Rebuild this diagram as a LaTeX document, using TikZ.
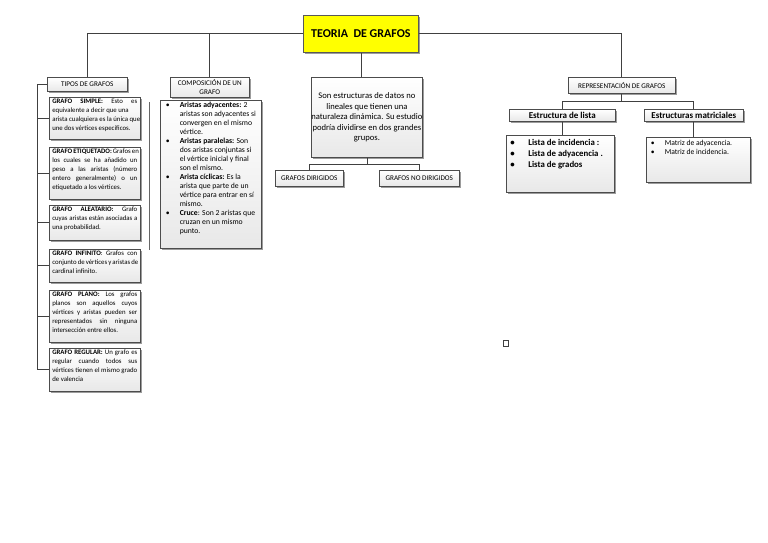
\documentclass[tikz,border=0pt]{standalone}
\usepackage{fontspec}
\setmainfont{Carlito}
\usetikzlibrary{shadows,calc}
\newcommand\bodyfs{\fontsize{7.7}{9}\selectfont}
\newcommand\leftfs{\fontsize{6.8}{9}\selectfont}
\newcommand\capfs{\fontsize{7.2}{9}\selectfont}
\newcommand\topbox[3]{\begin{minipage}[c][#2][t]{#1}#3\end{minipage}}
\newcommand\jl[1]{\makebox[\linewidth][s]{#1}\par}
\newcommand\lastln[1]{\mbox{#1}\par}
\newcommand\bulitem[1]{\par\noindent\hangindent=#1\hangafter=0\llap{\makebox[#1][l]{\textbullet}}}
\tikzset{
  card/.style={draw=black!70, line width=0.6pt, top color=white, bottom color=black!9,
    drop shadow={shadow xshift=1.5pt, shadow yshift=-1.5pt, fill=black!55, opacity=.7},
    inner sep=0pt, anchor=north west, align=center},
  titlecard/.style={draw=black!65, line width=0.8pt, fill={rgb,255:red,255;green,255;blue,0},
    drop shadow={shadow xshift=1.8pt, shadow yshift=-1.8pt, fill=black!55, opacity=.7},
    inner sep=0pt, anchor=north west},
  link/.style={draw=black!75, line width=0.8pt},
}
\begin{document}
\begin{tikzpicture}[x=1pt,y=-1pt]
\useasboundingbox[fill=white] (0,0) rectangle (768,543);

% title
\node[titlecard, minimum width=115pt, minimum height=37pt, font=\fontsize{12}{13}\selectfont\bfseries] (title) at (303,15)
  {TEORIA\ \ DE GRAFOS};

% level 1
\node[card, minimum width=80pt, minimum height=14pt, font=\capfs] (tipos) at (47,77) {TIPOS DE GRAFOS};
\node[card, minimum width=79pt, minimum height=20pt, font=\capfs] (comp) at (170,77) {COMPOSICIÓN DE UN\\GRAFO};
\node[card, minimum width=106pt, minimum height=80pt, font=\fontsize{8.6}{10.5}\selectfont] (mid) at (311,77)
  {Son estructuras de datos no\\lineales que tienen una\\naturaleza dinámica. Su estudio\\podría dividirse en dos grandes\\grupos.};
\node[card, minimum width=107pt, minimum height=16pt, font=\capfs] (repr) at (568,77) {REPRESENTACIÓN DE GRAFOS};

% left column
\node[card, minimum width=91pt, minimum height=42pt] (s1) at (49,97)
  {\topbox{85pt}{38pt}{\leftfs
   \jl{\textbf{GRAFO SIMPLE:} Esto es}
   \lastln{equivalente a decir que una}
   \lastln{arista cualquiera es la única que}
   \lastln{une dos vértices específicos.}}};
\node[card, minimum width=91pt, minimum height=52pt] (s2) at (49,147)
  {\topbox{85pt}{48pt}{\leftfs
   \jl{\textbf{GRAFO ETIQUETADO:} Grafos en}
   \jl{los cuales se ha añadido un}
   \jl{peso a las aristas (número}
   \jl{entero generalmente) o un}
   \lastln{etiquetado a los vértices.}}};
\node[card, minimum width=91pt, minimum height=35pt] (s3) at (49,205)
  {\topbox{85pt}{31pt}{\leftfs
   \jl{\textbf{GRAFO ALEATARIO:} Grafo}
   \jl{cuyas aristas están asociadas a}
   \lastln{una probabilidad.}}};
\node[card, minimum width=91pt, minimum height=33pt] (s4) at (49,249)
  {\topbox{85pt}{29pt}{\leftfs
   \jl{\textbf{GRAFO INFINITO}: Grafos con}
   \jl{conjunto de vértices y aristas de}
   \lastln{cardinal infinito.}}};
\node[card, minimum width=91pt, minimum height=52pt] (s5) at (49,290)
  {\topbox{85pt}{48pt}{\leftfs
   \jl{\textbf{GRAFO PLANO:} Los grafos}
   \jl{planos son aquellos cuyos}
   \jl{vértices y aristas pueden ser}
   \jl{representados sin ninguna}
   \lastln{intersección entre ellos.}}};
\node[card, minimum width=91pt, minimum height=43pt] (s6) at (49,348)
  {\topbox{85pt}{39pt}{\leftfs
   \jl{\textbf{GRAFO REGULAR:} Un grafo es}
   \jl{regular cuando todos sus}
   \jl{vértices tienen el mismo grado}
   \lastln{de valencia}}};

% composicion bullets
\node[card, minimum width=101pt, minimum height=148pt] (cb) at (160,100)
  {\topbox{90pt}{144pt}{\bodyfs\raggedright
   \bulitem{14pt}\textbf{Aristas adyacentes:} 2\newline aristas son adyacentes si\newline convergen en el mismo\newline vértice.
   \bulitem{14pt}\textbf{Aristas paralelas:} Son\newline dos aristas conjuntas si\newline el vértice inicial y final\newline son el mismo.
   \bulitem{14pt}\textbf{Arista cíclicas:} Es la\newline arista que parte de un\newline vértice para entrar en sí\newline mismo.
   \bulitem{14pt}\textbf{Cruce}: Son 2 aristas que\newline cruzan en un mismo\newline punto.\par}};

% middle children
\node[card, minimum width=68pt, minimum height=16pt, font=\capfs] (dir) at (275,170) {GRAFOS DIRIGIDOS};
\node[card, minimum width=80pt, minimum height=16pt, font=\capfs] (nodir) at (379,170) {GRAFOS NO DIRIGIDOS};

% representation children
\node[card, minimum width=106pt, minimum height=12pt, font=\fontsize{9}{10}\selectfont\bfseries] (est1) at (509,109) {Estructura de lista};
\node[card, minimum width=99pt, minimum height=12pt, font=\fontsize{9}{10}\selectfont\bfseries] (est2) at (644,109) {Estructuras matriciales};
\node[card, minimum width=108pt, minimum height=57pt] (list) at (506,135)
  {\topbox{100pt}{53pt}{\vspace*{2pt}\fontsize{8.8}{11}\selectfont\bfseries\raggedright
   \bulitem{18pt}Lista de incidencia :
   \bulitem{18pt}Lista de adyacencia .
   \bulitem{18pt}Lista de grados\par}};
\node[card, minimum width=104pt, minimum height=45pt] (mat) at (646,137)
  {\topbox{95pt}{41pt}{\vspace*{1pt}\fontsize{7.6}{9}\selectfont\raggedright
   \bulitem{14pt}Matriz de adyacencia.
   \bulitem{14pt}Matriz de incidencia.\par}};

% connectors
\draw[link] (title.west) -| (tipos.north);
\draw[link] (title.west) -| (comp.north);
\draw[link] (title.south) -- (title.south |- mid.north);
\draw[link] (title.east) -| (repr.north);
\coordinate (rj) at ($(repr.south)+(0,8)$);
\draw[link] (repr.south) -- (rj);
\draw[link] (rj) -| (est1.north);
\draw[link] (rj) -| (est2.north);
\draw[link] (est1.south) -- (est1.south |- list.north);
\draw[link] (est2.south) -- (est2.south |- mat.north);
\coordinate (mj) at ($(mid.south)+(0,7)$);
\draw[link] (mid.south) -- (mj);
\draw[link] (mj) -| (dir.north);
\draw[link] (mj) -| (nodir.north);
\coordinate (lb) at ($(tipos.west)+(-10,0)$);
\draw[link] (tipos.west) -- (lb) -- (lb |- s6.west) -- (s6.west);
\foreach \s in {s1,s2,s3,s4,s5} \draw[link] (lb |- \s.west) -- (\s.west);
\coordinate (va) at (149,102);
\coordinate (vb) at (149,250);
\draw[draw=black!60, line width=0.6pt] (va) -- (vb);

% small square
\node[draw=black!75, line width=0.6pt, minimum width=5pt, minimum height=6pt, inner sep=0pt] (sq) at (506,343.5) {};
\end{tikzpicture}
\end{document}
